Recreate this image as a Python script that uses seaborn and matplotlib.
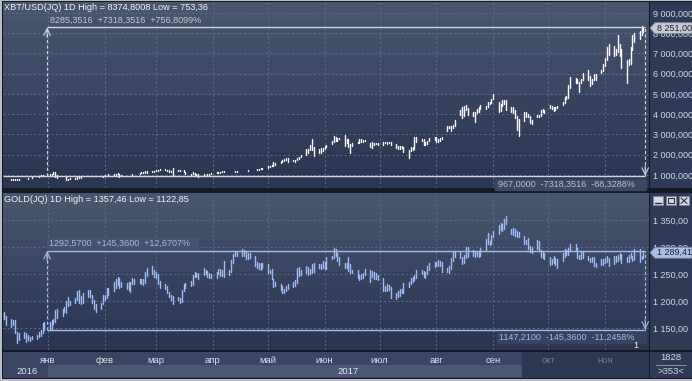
import numpy as np
import pandas as pd
import matplotlib
matplotlib.use('Agg')
import matplotlib.pyplot as plt
import seaborn as sns
from matplotlib.colors import LinearSegmentedColormap
from matplotlib.patches import Polygon, Rectangle
from matplotlib.ticker import FuncFormatter

W, H = 692, 381

# daily bars, trading days from 7 Dec 2016 to 22 Nov 2017
dates = pd.bdate_range('2016-12-07', '2017-11-22')

# XBT/USD daily low / high, one row per month (Dec .. Nov)
btc_lo = [
    753, 760, 765, 765, 772, 772, 770, 775, 785, 790, 798, 830, 860, 890, 900, 930, 960, 935,
    995, 1015, 1035, 880, 850, 880, 895, 750, 770, 790, 815, 825, 860, 865, 880, 905, 880, 885, 890, 905, 915, 920,
    965, 980, 1005, 1010, 1020, 1040, 920, 975, 985, 995, 1000, 1010, 1030, 1050, 1075, 1100, 1120, 1090, 1170, 1170,
    1190, 1220, 1255, 1250, 1180, 1140, 1140, 980, 1180, 1220, 1230, 1140, 1050, 1000, 1040, 1000, 1020, 900, 1000, 1030, 1000, 1015, 1030,
    1090, 1120, 1110, 1130, 1170, 1185, 1195, 1195, 1150, 1160, 1180, 1190, 1195, 1210, 1235, 1235, 1245, 1265, 1290, 1310,
    1340, 1400, 1440, 1450, 1480, 1600, 1660, 1700, 1740, 1640, 1680, 1660, 1720, 1780, 1870, 1980, 2080, 2240, 2230, 1950, 2080, 2080, 2180,
    2280, 2370, 2520, 2650, 2660, 2680, 2770, 2450, 2600, 2380, 2080, 2430, 2560, 2600, 2620, 2620, 2680, 2380, 2340, 2480, 2530, 2470,
    2480, 2560, 2540, 2570, 2480, 2330, 2290, 2270, 2320, 2160, 1850, 2170, 2250, 2260, 2630, 2680, 2480, 2480, 2550, 2700, 2720,
    2640, 2650, 2700, 2780, 3180, 3340, 3180, 3330, 3420, 3950, 3800, 3900, 4200, 3950, 3930, 3620, 4050, 4120, 4260, 4250, 4350, 4490, 4560,
    4740, 4100, 4180, 4430, 4520, 4200, 4120, 4080, 3800, 3200, 2950, 3680, 3870, 3850, 3580, 3520, 3860, 3860, 3900, 4120, 4060,
    4320, 4240, 4180, 4200, 4300, 4450, 4550, 4740, 4800, 5320, 5550, 5520, 5100, 5530, 5700, 5700, 5400, 5500, 5700, 5700, 6050, 6120,
    6400, 6700, 6930, 6900, 6950, 7050, 6900, 6300, 5550, 6450, 6500, 7150, 7550, 7700, 7900, 8060,
]
btc_hi = [
    770, 775, 775, 782, 785, 782, 780, 788, 795, 805, 835, 875, 925, 915, 940, 980, 985, 970,
    1035, 1045, 1150, 1130, 1000, 915, 910, 915, 825, 830, 840, 910, 910, 905, 900, 925, 925, 900, 920, 925, 925, 970,
    990, 1015, 1035, 1030, 1055, 1075, 1070, 1000, 1005, 1015, 1015, 1040, 1060, 1085, 1125, 1135, 1180, 1200, 1200, 1210,
    1230, 1270, 1290, 1280, 1270, 1250, 1200, 1330, 1245, 1250, 1260, 1260, 1160, 1060, 1125, 1120, 1060, 1040, 1050, 1060, 1060, 1050, 1090,
    1150, 1150, 1140, 1200, 1200, 1210, 1220, 1215, 1215, 1185, 1200, 1215, 1220, 1245, 1260, 1260, 1275, 1300, 1345, 1345,
    1430, 1460, 1500, 1620, 1580, 1700, 1750, 1780, 1860, 1850, 1760, 1760, 1820, 1900, 1990, 2260, 2300, 2480, 2800, 2400, 2300, 2320, 2330,
    2420, 2500, 2700, 2950, 2880, 2820, 2850, 2980, 2780, 2790, 2540, 2560, 2650, 2770, 2800, 2730, 2740, 2600, 2610, 2600, 2600, 2560,
    2620, 2630, 2630, 2630, 2610, 2550, 2420, 2420, 2430, 2400, 2250, 2380, 2400, 2900, 2900, 2780, 2770, 2620, 2700, 2830, 2890,
    2880, 2760, 2820, 2900, 3400, 3440, 3420, 3450, 3700, 4200, 4340, 4400, 4480, 4300, 4100, 4130, 4250, 4350, 4450, 4400, 4620, 4620, 4760,
    4980, 4600, 4500, 4680, 4680, 4700, 4350, 4380, 4200, 3920, 3750, 4120, 4120, 4010, 3890, 3730, 3980, 3980, 4230, 4260, 4220,
    4460, 4420, 4350, 4380, 4420, 4620, 4850, 4880, 5440, 5850, 5780, 5760, 5600, 5730, 6050, 6180, 5890, 5760, 5970, 6000, 6200, 6470,
    6780, 7300, 7450, 7380, 7200, 7900, 7450, 7200, 6700, 6750, 7320, 7900, 8000, 8100, 8374, 8300,
]

# GOLD daily low / high
gold_lo = [
    1165, 1166, 1156, 1152, 1155, 1140, 1123, 1127, 1132, 1124, 1128, 1126, 1129, 1130, 1133, 1135, 1140, 1147,
    1147, 1148, 1157, 1162, 1169, 1172, 1180, 1178, 1190, 1192, 1196, 1202, 1197, 1195, 1197, 1207, 1207, 1196, 1185, 1180, 1186, 1194,
    1202, 1205, 1211, 1219, 1225, 1230, 1225, 1226, 1222, 1221, 1217, 1231, 1231, 1233, 1232, 1229, 1233, 1247, 1250, 1245,
    1243, 1232, 1224, 1222, 1214, 1208, 1201, 1195, 1201, 1197, 1198, 1219, 1225, 1228, 1230, 1244, 1244, 1241, 1248, 1250, 1245, 1242, 1243,
    1243, 1250, 1246, 1247, 1245, 1249, 1254, 1270, 1283, 1283, 1283, 1284, 1277, 1277, 1280, 1265, 1262, 1260, 1258, 1262,
    1251, 1252, 1240, 1226, 1227, 1220, 1214, 1214, 1219, 1223, 1226, 1228, 1234, 1246, 1248, 1252, 1248, 1250, 1252, 1254, 1261, 1259, 1261,
    1260, 1260, 1277, 1280, 1283, 1275, 1266, 1262, 1261, 1256, 1251, 1251, 1242, 1239, 1240, 1242, 1248, 1236, 1244, 1241, 1240, 1238,
    1218, 1218, 1219, 1220, 1205, 1204, 1207, 1210, 1214, 1214, 1226, 1232, 1236, 1238, 1242, 1250, 1245, 1243, 1250, 1258, 1263,
    1264, 1265, 1264, 1253, 1254, 1251, 1259, 1274, 1281, 1279, 1268, 1270, 1280, 1282, 1284, 1281, 1284, 1282, 1283, 1292, 1305, 1304, 1306,
    1318, 1325, 1332, 1330, 1333, 1342, 1324, 1323, 1320, 1318, 1318, 1306, 1305, 1297, 1290, 1288, 1296, 1292, 1282, 1280, 1278,
    1267, 1268, 1270, 1266, 1261, 1274, 1281, 1285, 1286, 1292, 1294, 1279, 1277, 1278, 1279, 1276, 1273, 1273, 1264, 1263, 1266, 1267,
    1271, 1273, 1264, 1268, 1273, 1275, 1278, 1271, 1273, 1272, 1279, 1274, 1276, 1273, 1277, 1280,
]
gold_hi = [
    1178, 1180, 1173, 1166, 1164, 1164, 1142, 1140, 1143, 1140, 1137, 1134, 1136, 1137, 1142, 1146, 1160, 1162,
    1162, 1165, 1167, 1183, 1185, 1186, 1188, 1200, 1207, 1200, 1205, 1219, 1220, 1210, 1214, 1220, 1221, 1212, 1201, 1195, 1197, 1211,
    1212, 1224, 1225, 1236, 1240, 1245, 1242, 1235, 1234, 1235, 1236, 1243, 1240, 1240, 1240, 1240, 1253, 1262, 1264, 1258,
    1253, 1250, 1237, 1232, 1228, 1217, 1211, 1210, 1208, 1206, 1220, 1232, 1233, 1237, 1248, 1253, 1251, 1252, 1262, 1257, 1256, 1252, 1250,
    1254, 1260, 1259, 1258, 1274, 1258, 1276, 1287, 1292, 1290, 1297, 1294, 1291, 1289, 1289, 1284, 1273, 1270, 1271, 1270,
    1268, 1258, 1259, 1241, 1236, 1231, 1228, 1223, 1228, 1232, 1235, 1238, 1261, 1263, 1257, 1265, 1263, 1259, 1268, 1271, 1269, 1268, 1275,
    1273, 1282, 1284, 1298, 1296, 1289, 1281, 1271, 1270, 1281, 1268, 1258, 1257, 1249, 1250, 1252, 1259, 1257, 1255, 1254, 1252, 1248,
    1243, 1227, 1231, 1230, 1226, 1215, 1219, 1223, 1223, 1233, 1236, 1243, 1244, 1248, 1258, 1258, 1256, 1254, 1264, 1270, 1273,
    1272, 1276, 1275, 1272, 1262, 1265, 1279, 1290, 1292, 1290, 1282, 1285, 1300, 1300, 1294, 1292, 1292, 1291, 1298, 1315, 1326, 1312, 1322,
    1330, 1340, 1345, 1343, 1352, 1357, 1334, 1335, 1334, 1330, 1328, 1320, 1313, 1316, 1302, 1300, 1313, 1312, 1295, 1290, 1289,
    1281, 1277, 1284, 1279, 1277, 1288, 1296, 1295, 1298, 1306, 1305, 1298, 1286, 1292, 1292, 1284, 1280, 1282, 1281, 1270, 1278, 1278,
    1280, 1283, 1280, 1283, 1283, 1286, 1288, 1287, 1281, 1286, 1288, 1284, 1297, 1296, 1284, 1292,
]

month_names = ['янв', 'фев', 'мар', 'апр', 'май', 'июн', 'июл', 'авг', 'сен', 'окт', 'ноя']
month_starts = pd.date_range('2017-01-01', '2017-11-01', freq='MS')
btc_ticks = [1000, 2000, 3000, 4000, 5000, 6000, 7000, 8000, 9000]
gold_ticks = [1150, 1200, 1250, 1300, 1350]

btc_title = 'XBT/USD(JQ) 1D High = 8374,8008 Low = 753,36'
gold_title = 'GOLD(JQ) 1D High = 1357,46 Low = 1122,85'
btc_from, btc_to, btc_last = 967.0, 8285.3516, 8251.00
gold_from, gold_to, gold_last = 1147.21, 1292.57, 1289.41
btc_up_txt = '8285,3516  +7318,3516  +756,8099%'
btc_dn_txt = '967,0000  -7318,3516  -88,3288%'
gold_up_txt = '1292,5700  +145,3600  +12,6707%'
gold_dn_txt = '1147,2100  -145,3600  -11,2458%'

assert len(dates) == len(btc_lo) == len(btc_hi) == len(gold_lo) == len(gold_hi)

sns.set_theme(style='dark', rc={'figure.facecolor': '#b9bdc6'})
plt.rcParams['font.family'] = ['Liberation Sans', 'DejaVu Sans']

origin = pd.Timestamp('2017-01-01')
days = np.asarray((dates - origin).days, dtype=float)
month_days = np.asarray((month_starts - origin).days, dtype=float)
PX_DAY = 1.832
xlim = ((3 - 48) / PX_DAY, (649 - 48) / PX_DAY)


def rect(x0, y0, x1, y1):
    return [x0 / W, 1 - y1 / H, (x1 - x0) / W, (y1 - y0) / H]


def blank(ax, color):
    ax.set_facecolor(color)
    ax.set_xticks([])
    ax.set_yticks([])
    for s in ax.spines.values():
        s.set_visible(False)


def shade(ax, top, bottom, steps=10):
    cmap = LinearSegmentedColormap.from_list('bg', [top, bottom])
    x0, x1 = ax.get_xlim()
    y0, y1 = ax.get_ylim()
    ax.imshow(np.linspace(0, 1, steps)[:, None], cmap=cmap, extent=[x0, x1, y0, y1],
              aspect='auto', zorder=0, interpolation='nearest')
    ax.set_xlim(x0, x1)
    ax.set_ylim(y0, y1)


def long_bars(lo, hi):
    n = len(lo)
    return pd.DataFrame({'day': np.repeat(days, 2),
                         'price': np.column_stack([lo, hi]).ravel(),
                         'bar': np.repeat(np.arange(n), 2)})


def euro_fmt(decimals):
    return FuncFormatter(lambda v, _: f'{v:,.{decimals}f}'.replace(',', ' ').replace('.', ','))


fig = plt.figure(figsize=(W / 100, H / 100), dpi=100)

base = fig.add_axes(rect(2, 1, 692, 379))
blank(base, '#141923')
for r in [(650, 2, 692, 188), (650, 193, 692, 350), (650, 352, 692, 378)]:
    blank(fig.add_axes(rect(*r)), '#2f3a57')

strip = fig.add_axes(rect(3, 352, 649, 378))
ax1 = fig.add_axes(rect(3, 2, 649, 188))
ax2 = fig.add_axes(rect(3, 193, 649, 350))

panels = [
    (ax1, long_bars(btc_lo, btc_hi), (358.0, 9543.2), btc_ticks, euro_fmt(3), '#fbf7f7', '#d2d5dc',
     btc_from, btc_to),
    (ax2, long_bars(gold_lo, gold_hi), (1109.26, 1400.0), gold_ticks, euro_fmt(2), '#9dbbf4', '#a6bce8',
     gold_from, gold_to),
]
m0, m1 = -0.5, days[-1] + 1
for ax, df, ylim, ticks, fmt, bar_col, mcol, v_from, v_to in panels:
    ax.set_xlim(*xlim)
    ax.set_ylim(*ylim)
    shade(ax, '#48556f', '#2b3652')
    ax.set_xticks(month_days)
    ax.set_yticks(ticks)
    ax.grid(True, color='#5e6c8c', linestyle=(0, (2, 2.5)), linewidth=0.7)
    ax.yaxis.set_major_formatter(fmt)
    ax.yaxis.tick_right()
    ax.tick_params(axis='x', length=0, labelbottom=False)
    ax.tick_params(axis='y', length=0, pad=3, labelsize=6.5, labelcolor='#d3d9e4',
                   labelright=True, labelleft=False)
    for s in ax.spines.values():
        s.set_visible(False)
    sns.lineplot(data=df, x='day', y='price', units='bar', estimator=None, color=bar_col,
                 linewidth=1.0, ax=ax, legend=False, zorder=3)
    ax.set_xlabel('')
    ax.set_ylabel('')
    # measurement tool lines
    ax.hlines(v_to, m0, m1, color=mcol, lw=1.0, zorder=4)
    ax.hlines(v_from, xlim[0] if ax is ax1 else m0, m1, color=mcol, lw=1.0, zorder=4)
    ax.vlines([m0, m1], v_from, v_to, color=mcol, lw=0.8, linestyle=(0, (3, 2)), zorder=4)
    ax.annotate('', xy=(m0, v_to), xytext=(0, -7), textcoords='offset points',
                arrowprops=dict(arrowstyle='->', color=mcol, lw=0.8, shrinkA=0, shrinkB=0))
    ax.annotate('', xy=(m1, v_from), xytext=(0, 7), textcoords='offset points',
                arrowprops=dict(arrowstyle='->', color=mcol, lw=0.8, shrinkA=0, shrinkB=0))

# date strip
strip.set_xlim(*xlim)
strip.set_ylim(0, 1)
blank(strip, '#3a4563')
split = (522 - 48) / PX_DAY
strip.axvspan(0, split, ymin=0.04, ymax=0.5, color='#4b5775', lw=0)
strip.axvspan(split, xlim[1], color='#2d3853', lw=0)
for d, name in zip(month_days, month_names):
    col = '#dde2ec' if d < split else '#6c7896'
    strip.text(d, 0.66, name, ha='center', va='center', fontsize=6.8, color=col)

# overlay in pixel coordinates for labels and widgets
over = fig.add_axes([0, 0, 1, 1])
over.set_xlim(0, W)
over.set_ylim(H, 0)
over.axis('off')


def py(ax, v):
    return H - ax.transData.transform((0, v))[1]


over.text(4, 7.5, btc_title, fontsize=6.6, color='#f2f4f8', va='center')
over.text(50, 20, btc_up_txt, fontsize=6.5, color='#c3c9d5', va='center')
over.add_patch(Rectangle((495, 178.5), 151, 11, color='#3b4765', zorder=1))
over.text(498, 184, btc_dn_txt, fontsize=6.5, color='#b9bfcc', va='center', zorder=2)

over.text(4, 200, gold_title, fontsize=6.6, color='#f2f4f8', va='center')
over.add_patch(Rectangle((47, 238), 151, 11, color='#46536f', zorder=1))
over.text(49, 243.5, gold_up_txt, fontsize=6.5, color='#a2b9e2', va='center', zorder=2)
over.add_patch(Rectangle((497, 331.5), 149, 11, color='#36425f', zorder=1))
over.text(499, 337.5, gold_dn_txt, fontsize=6.5, color='#a2b9e2', va='center', zorder=2)
over.text(636, 346, '1', fontsize=6.5, color='#f2f4f8', ha='center', va='center')

# last price tags
for ax, val, txt, fc in [(ax1, btc_last, '8 251,00', '#c6cad2'), (ax2, gold_last, '1 289,41', '#a9bfe8')]:
    yc = py(ax, val)
    over.add_patch(Polygon([(650, yc), (655, yc - 5.5), (692, yc - 5.5), (692, yc + 5.5), (655, yc + 5.5)],
                           closed=True, fc=fc, ec='#7d8498', lw=0.6, zorder=3))
    over.text(657, yc, txt, fontsize=6.5, color='#1b2233', va='center', zorder=4)

# window buttons
for i, x in enumerate([653, 666, 679]):
    over.add_patch(Rectangle((x, 196), 10, 9, fc='#d6dae2', ec='#7c8499', lw=0.6, zorder=3))
    if i == 0:
        over.plot([x + 2, x + 8], [203, 203], color='#2a3140', lw=1.0, zorder=4)
    elif i == 1:
        over.add_patch(Rectangle((x + 2.2, 198), 5.6, 5, fc='none', ec='#2a3140', lw=0.8, zorder=4))
    else:
        over.plot([x + 2, x + 8], [198, 203.5], color='#2a3140', lw=0.8, zorder=4)
        over.plot([x + 2, x + 8], [203.5, 198], color='#2a3140', lw=0.8, zorder=4)

# year labels and corner box
over.text(27, 371, '2016', fontsize=6.8, color='#e2e6ee', ha='center', va='center')
over.text(348, 371, '2017', fontsize=6.8, color='#e2e6ee', ha='center', va='center')
over.text(671, 358, '1828', fontsize=6.8, color='#d3d9e4', ha='center', va='center')
over.plot([656, 686], [365, 365], color='#9aa3b6', lw=0.6)
over.text(671, 372, '>353<', fontsize=6.8, color='#d3d9e4', ha='center', va='center')

fig.savefig('out.png', dpi=100)
